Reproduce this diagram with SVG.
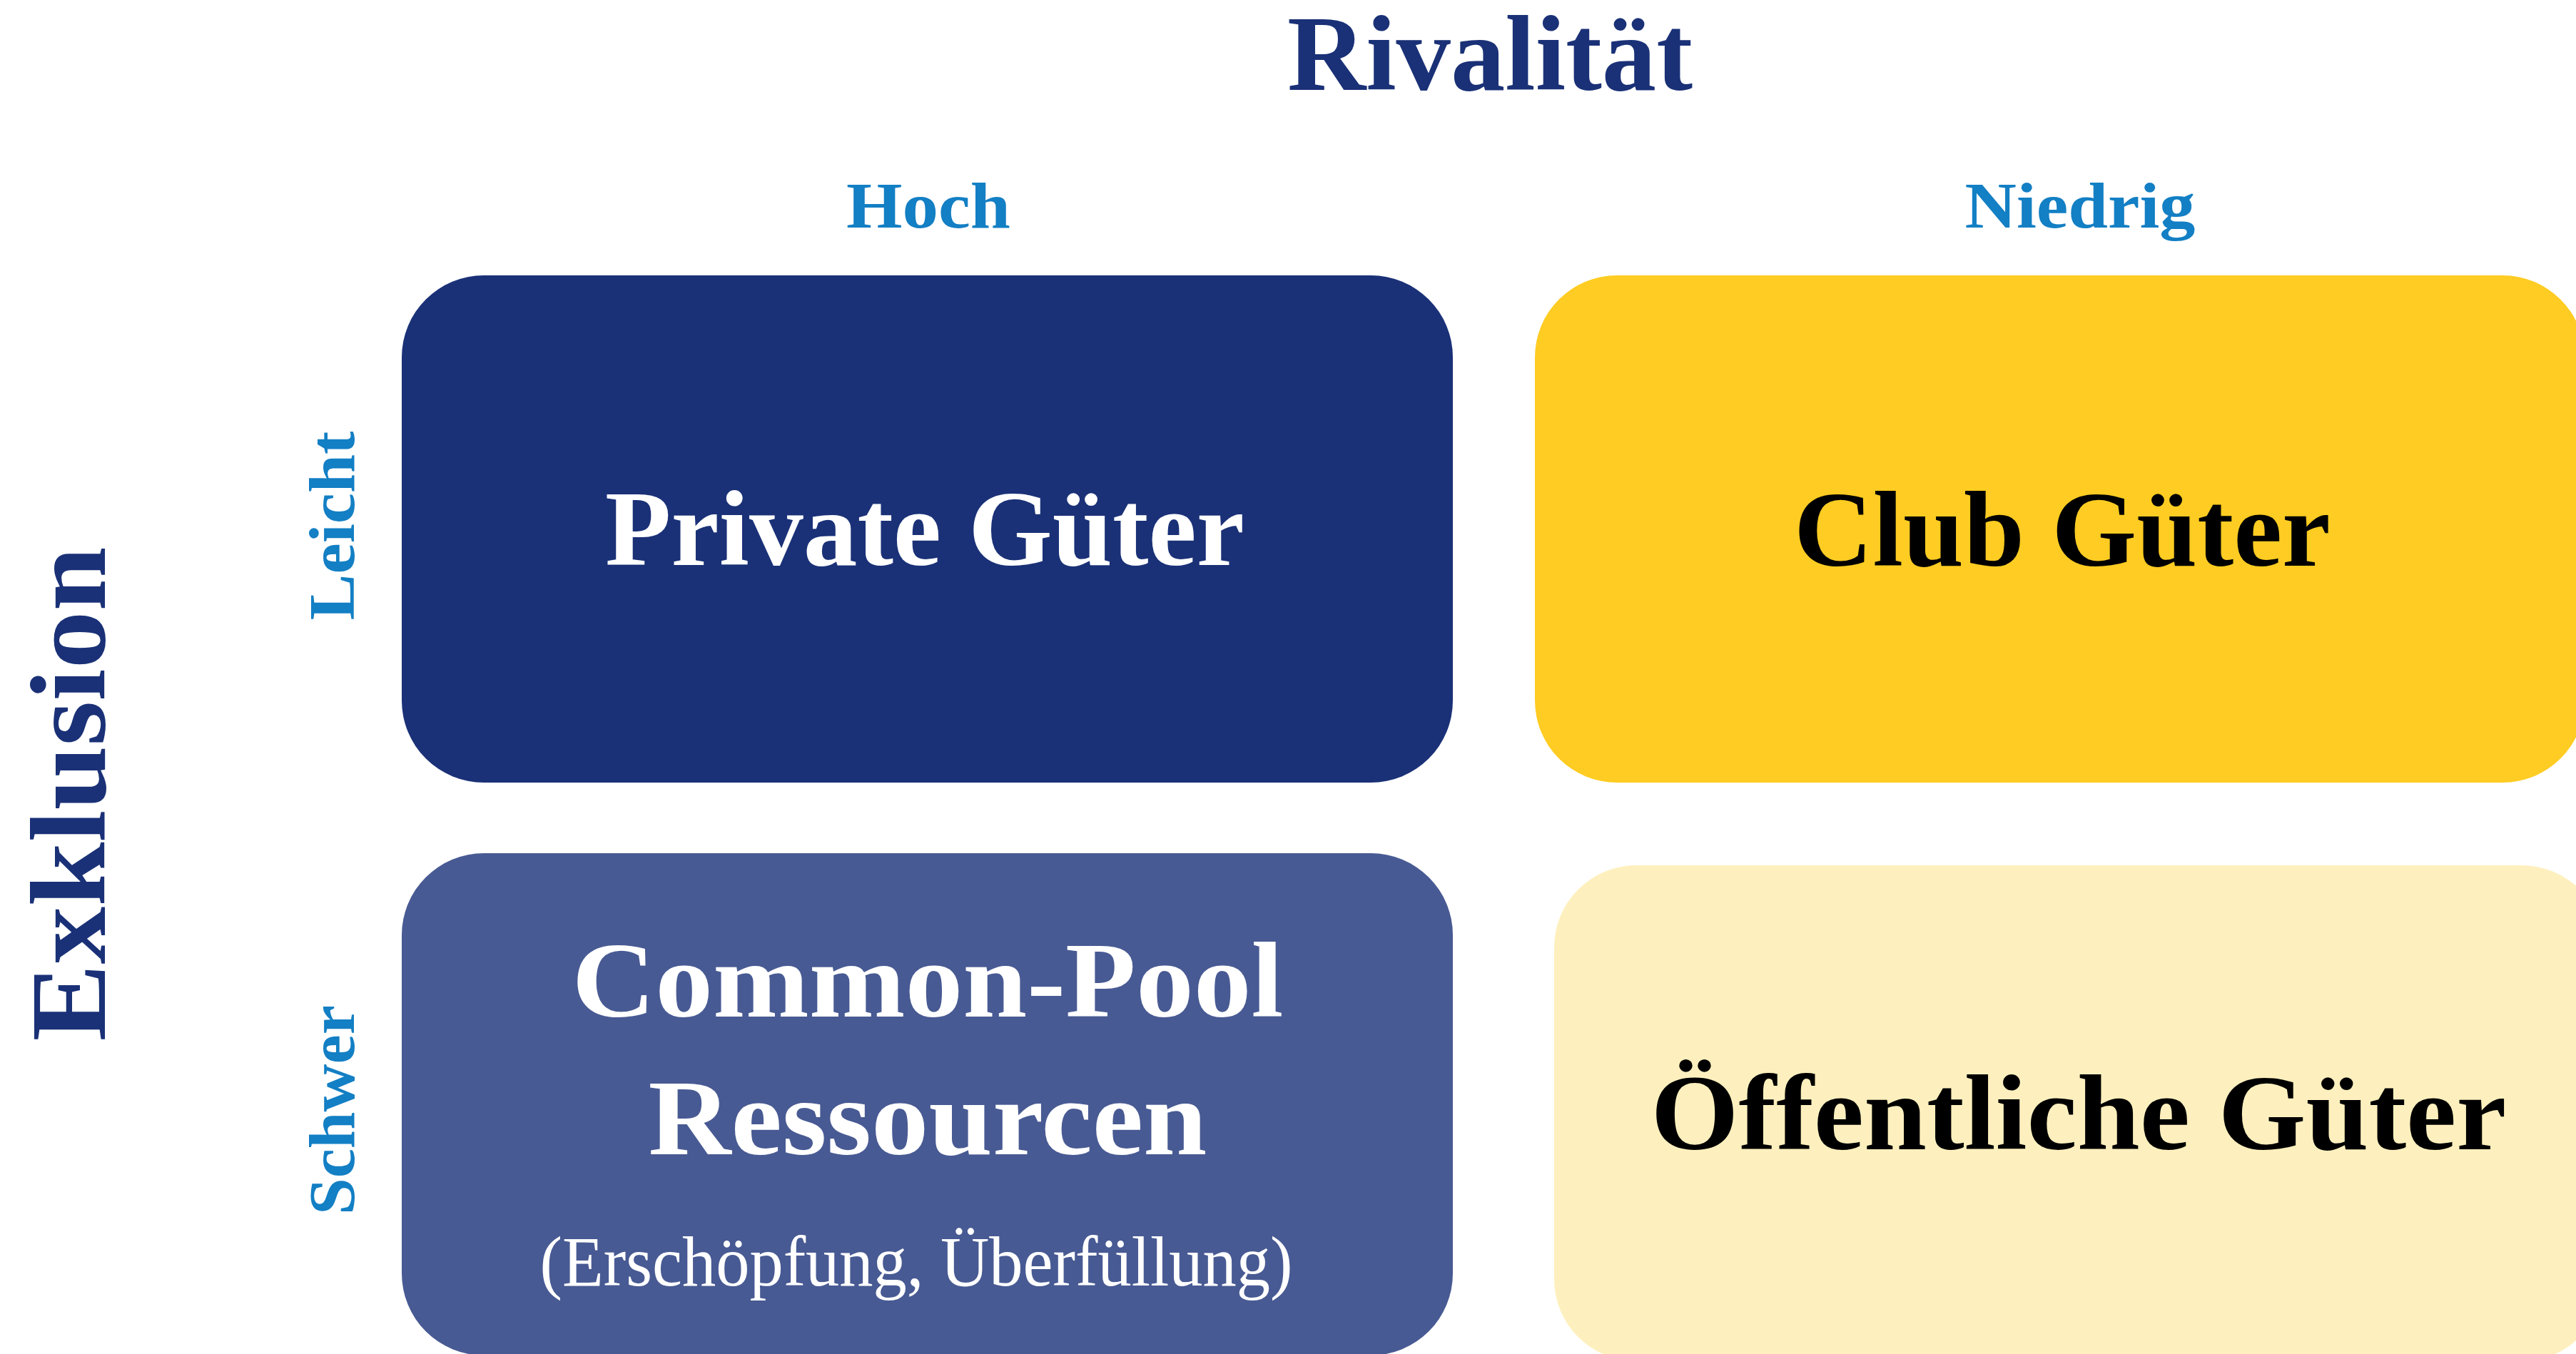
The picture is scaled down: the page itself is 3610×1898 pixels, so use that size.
<svg xmlns="http://www.w3.org/2000/svg" width="3610" height="1898" viewBox="0 0 3610 1898">
<style>
.t{font-family:"Liberation Serif","Times New Roman",serif;font-weight:bold;text-anchor:middle}
.ax{fill:#1A3177}
.lv{fill:#137FC4;font-size:92px}
.big{font-size:151px}
.w{fill:#FFFFFF}
.k{fill:#000000}
.sub{font-family:"Liberation Serif","Times New Roman",serif;font-weight:normal;text-anchor:middle;fill:#FFFFFF;font-size:100px}
</style>
<rect width="3610" height="1898" fill="#FFFFFF"/>
<g id="labels">
<text class="t ax" x="2088" y="126" font-size="150" textLength="568" lengthAdjust="spacingAndGlyphs">Rivalität</text>
<text class="t lv" x="1301" y="319" textLength="230" lengthAdjust="spacingAndGlyphs">Hoch</text>
<text class="t lv" x="2915" y="319" textLength="323" lengthAdjust="spacingAndGlyphs">Niedrig</text>
<text class="t ax big" transform="translate(147,1113) rotate(-90)" x="0" y="0" textLength="693" lengthAdjust="spacingAndGlyphs">Exklusion</text>
<text class="t lv" transform="translate(496,737) rotate(-90)" x="0" y="0" textLength="265" lengthAdjust="spacingAndGlyphs">Leicht</text>
<text class="t lv" transform="translate(496,1556) rotate(-90)" x="0" y="0" textLength="294" lengthAdjust="spacingAndGlyphs">Schwer</text>
</g>
<g id="private">
<rect x="563" y="386" width="1473" height="711" rx="115" ry="115" fill="#1A3177"/>
<text class="t w big" x="1296" y="792" textLength="896" lengthAdjust="spacingAndGlyphs">Private Güter</text>
</g>
<g id="club">
<rect x="2151" y="386" width="1471" height="711" rx="115" ry="115" fill="#FECC22"/>
<text class="t k big" x="2890" y="793" textLength="752" lengthAdjust="spacingAndGlyphs">Club Güter</text>
</g>
<g id="commonpool">
<rect x="563" y="1196" width="1473" height="704" rx="115" ry="115" fill="#485A93"/>
<text class="t w big" x="1300" y="1425" textLength="997" lengthAdjust="spacingAndGlyphs">Common-Pool</text>
<text class="t w big" x="1300" y="1618" textLength="783" lengthAdjust="spacingAndGlyphs">Ressourcen</text>
<text class="sub" x="1284" y="1802" textLength="1055" lengthAdjust="spacingAndGlyphs">(Erschöpfung, Überfüllung)</text>
</g>
<g id="oeffentlich">
<rect x="2178" y="1213" width="1471" height="695" rx="115" ry="115" fill="#FEF0BE"/>
<text class="t k big" x="2913" y="1611" textLength="1199" lengthAdjust="spacingAndGlyphs">Öffentliche Güter</text>
</g>
<g id="connectors"></g>
</svg>
